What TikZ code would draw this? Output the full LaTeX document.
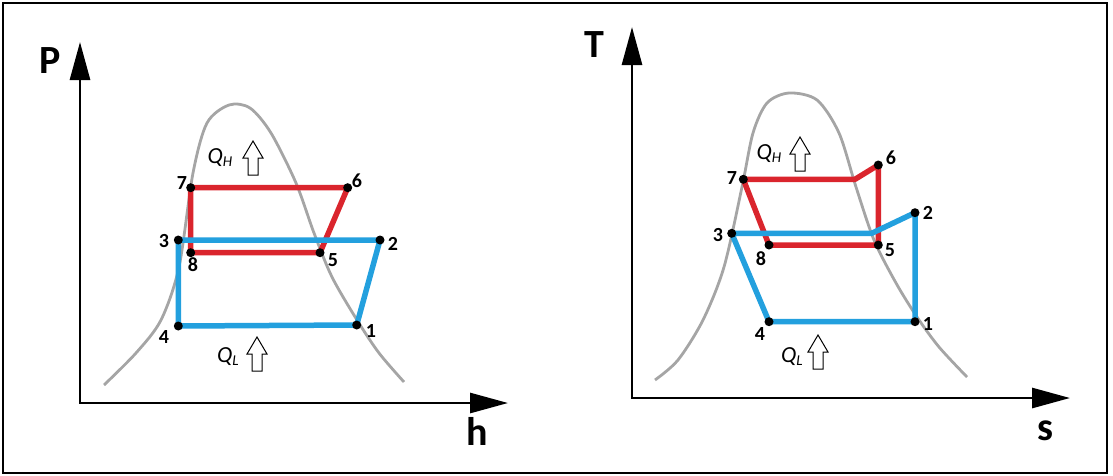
\documentclass[tikz,border=0pt]{standalone}
\usepackage{fontspec}
\setmainfont{Carlito}
\usetikzlibrary{arrows.meta}
\definecolor{cycred}{RGB}{218,37,45}
\definecolor{cycblue}{RGB}{35,160,222}
\definecolor{domegray}{RGB}{165,165,165}
\newcommand{\heatsub}[1]{\raisebox{-2.5pt}{\fontsize{15}{15}\selectfont #1}}
\tikzset{
 dome/.style={draw=domegray,line width=2.8pt},
 axis/.style={line width=2.8pt,
   {Triangle[length=38pt,width=20pt]}-{Triangle[length=38pt,width=20pt]}},
 hotloop/.style={draw=cycred,line width=5.5pt,line join=round},
 coldloop/.style={draw=cycblue,line width=5.5pt,line join=round},
 num/.style={font=\fontsize{20}{20}\selectfont\bfseries,inner sep=0pt},
 axlabel/.style={font=\fontsize{40}{40}\selectfont\bfseries,inner sep=0pt},
 qlabel/.style={font=\fontsize{23}{23}\selectfont\itshape,inner sep=0pt},
 heatarrow/.pic={
   \draw[line width=1pt,fill=white] (0,-17) -- (10,0) -- (5,0) -- (5,17)
     -- (-5,17) -- (-5,0) -- (-10,0) -- cycle;
 },
}

\begin{document}
\begin{tikzpicture}[x=1pt,y=-1pt]
\useasboundingbox (0,0) rectangle (1113,475);
\draw[line width=2pt] (3,3) rectangle (1107,473);

% P-h diagram
\draw[dome] plot[smooth] coordinates {(104,385) (136,353) (161,320) (179,267)
  (193,173) (207,123) (229,105) (250,108) (271,133) (296,183) (314,233)
  (332,277) (357,320) (379,353) (404,382)};
\coordinate (Lo) at (80,403);
\coordinate (Ltop) at (80,42);
\coordinate (Lend) at (508,403);
\draw[axis] (Ltop) -- (Lo) -- (Lend);
\node[axlabel] (Plbl) at (50,61) {P};
\node[axlabel] (hlbl) at (477,431) {h};

\coordinate (L1) at (356.7,325);
\coordinate (L2) at (380,240);
\coordinate (L3) at (178.3,240);
\coordinate (L4) at (178.3,326);
\coordinate (L5) at (320,252.7);
\coordinate (L6) at (347.7,187.7);
\coordinate (L7) at (190.7,187.7);
\coordinate (L8) at (190.7,252.7);
\draw[hotloop] (L5) -- (L6) -- (L7) -- (L8) -- cycle;
\draw[coldloop] (L1) -- (L2) -- (L3) -- (L4) -- cycle;

\node[num] (L1n) at (371,331) {1};
\node[num] (L2n) at (393,244) {2};
\node[num] (L3n) at (164,241) {3};
\node[num] (L4n) at (164,337) {4};
\node[num] (L5n) at (333,260) {5};
\node[num] (L6n) at (357,181) {6};
\node[num] (L7n) at (182,183) {7};
\node[num] (L8n) at (193,265) {8};

\node[qlabel] (LQH) at (220,158) {Q\heatsub{H}};
\pic at (253,158) {heatarrow};
\node[qlabel] (LQL) at (228,357) {Q\heatsub{L}};
\pic at (257,354) {heatarrow};

% T-s diagram
\draw[dome] plot[smooth] coordinates {(655,380) (678,360) (703,320) (724,267)
  (742,187) (753,133) (767,103) (789,93) (817,100) (839,133) (856,187)
  (874,240) (896,283) (917,317) (939,347) (967,377)};
\coordinate (Ro) at (632,398);
\coordinate (Rtop) at (632,27);
\coordinate (Rend) at (1070,398);
\draw[axis] (Rtop) -- (Ro) -- (Rend);
\node[axlabel] (Tlbl) at (594,45) {T};
\node[axlabel] (slbl) at (1045,431) {s};

\coordinate (R1) at (915,321.7);
\coordinate (R2) at (915,212.7);
\coordinate (R3) at (731.7,233.3);
\coordinate (R4) at (769,321.7);
\coordinate (R5) at (878.3,245);
\coordinate (R6) at (878.3,165);
\coordinate (R7) at (743.3,179.3);
\coordinate (R8) at (769,245);
\coordinate (Rk6) at (855,179.3);
\coordinate (Rk2) at (871.7,233.3);
\draw[hotloop] (R5) -- (R6) -- (Rk6) -- (R7) -- (R8) -- cycle;
\draw[coldloop] (R1) -- (R2) -- (Rk2) -- (R3) -- (R4) -- cycle;

\node[num] (R1n) at (928,324) {1};
\node[num] (R2n) at (928,213) {2};
\node[num] (R3n) at (718,235) {3};
\node[num] (R4n) at (760,334) {4};
\node[num] (R5n) at (890,250) {5};
\node[num] (R6n) at (891,158) {6};
\node[num] (R7n) at (732,178) {7};
\node[num] (R8n) at (761,259) {8};

\node[qlabel] (RQH) at (769,154) {Q\heatsub{H}};
\pic at (800,154) {heatarrow};
\node[qlabel] (RQL) at (792,357) {Q\heatsub{L}};
\pic at (818,352) {heatarrow};

\foreach \p in {L1,L2,L3,L4,L5,L6,L7,L8,R1,R2,R3,R4,R5,R6,R7,R8}
  \fill (\p) circle (4.5pt);
\end{tikzpicture}
\end{document}
